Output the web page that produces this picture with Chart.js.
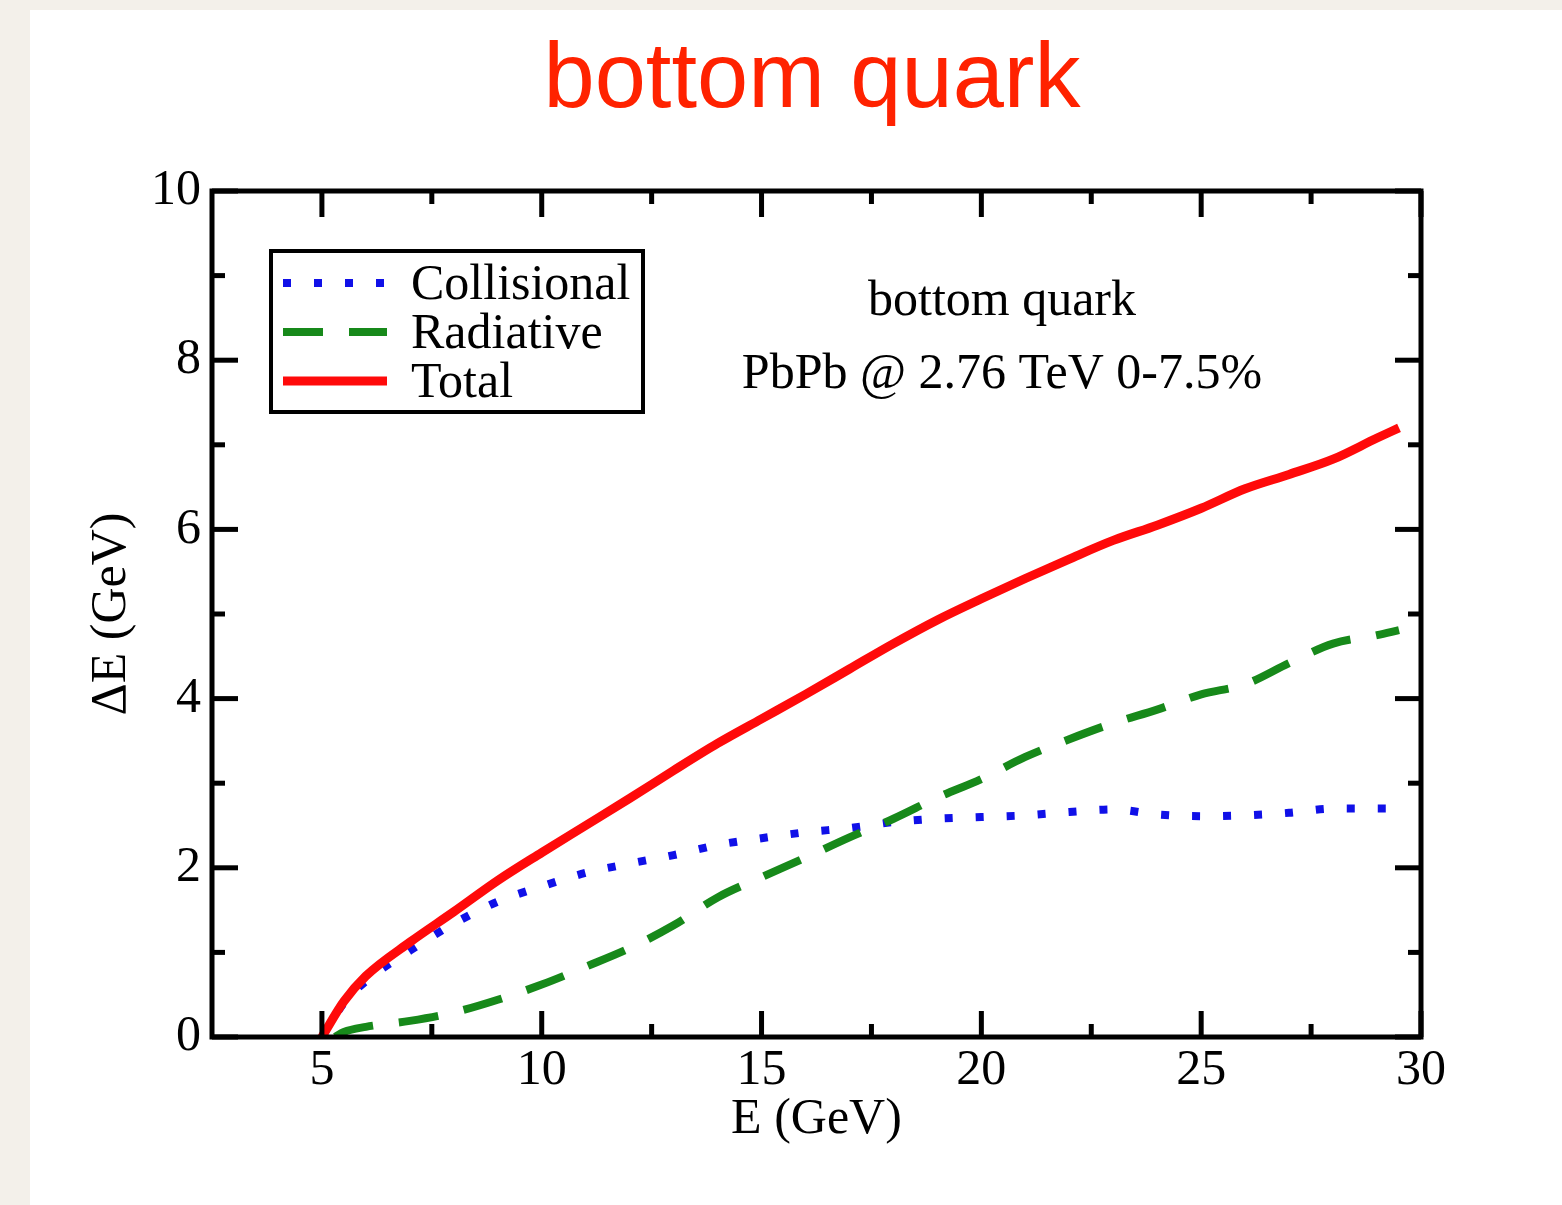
<!DOCTYPE html>
<html><head><meta charset="utf-8">
<script src="https://cdn.jsdelivr.net/npm/chart.js@4.4.1/dist/chart.umd.min.js"></script>
<style>html,body{margin:0;padding:0;background:#f3f0ea;overflow:hidden}
#wrap{position:absolute;left:0;top:0;width:1562px;height:1205px}</style></head>
<body><div id="wrap"><canvas id="c" width="1562" height="1205"></canvas></div>
<script>
// ---- data ----
const totalE = [5,5.5,6,7,8,9,10,11,12,13,14,15,16,17,18,19,20,21,22,23,24,25,26,27,28,29,29.5];
const totalDE = [0,0.42,0.72,1.12,1.48,1.85,2.18,2.5,2.82,3.15,3.47,3.76,4.05,4.35,4.65,4.93,5.18,5.42,5.65,5.87,6.05,6.25,6.48,6.65,6.83,7.08,7.2];
const collisionalE = [5,5.5,6,7,8,9,10,11,12,13,14,15,16,17,18,19,20,21,22,23,24,25,26,27,28,29,29.5];
const collisionalDE = [0,0.4,0.66,1.02,1.34,1.6,1.78,1.94,2.05,2.15,2.27,2.35,2.42,2.47,2.54,2.58,2.6,2.62,2.66,2.69,2.63,2.61,2.62,2.65,2.7,2.7,2.7];
const radiativeE = [5.3,5.5,6,7,8,9,10,11,12,13,14,15,16,17,18,19,20,21,22,23,24,25,26,27,28,29,29.5];
const radiativeDE = [0,0.06,0.12,0.19,0.29,0.44,0.62,0.83,1.05,1.32,1.65,1.89,2.12,2.36,2.58,2.83,3.05,3.31,3.52,3.71,3.87,4.05,4.17,4.42,4.65,4.75,4.81];
const xMajorTicks = [5,10,15,20,25,30];
const xMinorTicks = [7.5,12.5,17.5,22.5,27.5];
const yMajorTicks = [0,2,4,6,8,10];
const yMinorTicks = [1,3,5,7,9];
const seriesLabels = ['Collisional','Radiative','Total'];
const chartTitle = 'bottom quark';
const annotationLines = ['bottom quark','PbPb @ 2.76 TeV 0-7.5%'];

const pts = (xs, ys) => xs.map((v,i)=>({x:v,y:ys[i]}));
const SERIF = '"Liberation Serif", "DejaVu Serif", serif';

const decorPlugin = {
  id:'decor',
  beforeDraw(chart){
    const ctx = chart.ctx;
    ctx.save();
    ctx.fillStyle = '#f3f0ea'; ctx.fillRect(0,0,chart.width,chart.height);
    ctx.fillStyle = '#ffffff'; ctx.fillRect(30,10,chart.width-30,chart.height-10);
    ctx.restore();
  },
  afterDatasetsDraw(chart){
    const {ctx, chartArea:a, scales:{x,y}} = chart;
    ctx.save();
    ctx.strokeStyle = '#000'; ctx.lineCap = 'butt';
    const seg=(x1,y1,x2,y2)=>{ctx.beginPath();ctx.moveTo(x1,y1);ctx.lineTo(x2,y2);ctx.stroke();};
    ctx.lineWidth = 5;
    xMajorTicks.forEach(v=>{const p=x.getPixelForValue(v); seg(p,a.bottom,p,a.bottom-26); seg(p,a.top,p,a.top+26);});
    xMinorTicks.forEach(v=>{const p=x.getPixelForValue(v); seg(p,a.bottom,p,a.bottom-13); seg(p,a.top,p,a.top+13);});
    yMajorTicks.forEach(v=>{const p=y.getPixelForValue(v); seg(a.left,p,a.left+26,p); seg(a.right,p,a.right-26,p);});
    yMinorTicks.forEach(v=>{const p=y.getPixelForValue(v); seg(a.left,p,a.left+13,p); seg(a.right,p,a.right-13,p);});
    ctx.lineWidth = 5;
    ctx.strokeRect(a.left,a.top,a.right-a.left,a.bottom-a.top);

    // title
    ctx.fillStyle = '#ff2200';
    ctx.font = '92px "Liberation Sans", Arial, sans-serif';
    ctx.textAlign = 'center'; ctx.textBaseline = 'alphabetic';
    ctx.fillText(chartTitle, 812, 107);

    // annotation
    ctx.fillStyle = '#000';
    ctx.font = '50px ' + SERIF;
    ctx.fillText(annotationLines[0], 1002, 315);
    ctx.fillText(annotationLines[1], 1002, 388);

    // legend
    const bx=271, by=251, bw=372, bh=161;
    ctx.lineWidth = 4; ctx.strokeStyle = '#000';
    ctx.strokeRect(bx,by,bw,bh);
    const rows=[283,332,381];
    [0,1,2].forEach((di,i)=>{
      const ds = chart.data.datasets[di];
      ctx.save();
      ctx.strokeStyle = ds.borderColor; ctx.lineWidth = ds.borderWidth;
      ctx.setLineDash(ds.borderDash||[]); ctx.lineCap='butt';
      seg(283,rows[i],387,rows[i]);
      ctx.restore();
      ctx.fillStyle='#000'; ctx.textAlign='left'; ctx.textBaseline='middle';
      ctx.font = '50px ' + SERIF;
      ctx.fillText(ds.label, 411, rows[i]+3);
    });
    ctx.restore();
  }
};

new Chart(document.getElementById('c'), {
  type:'line',
  data:{datasets:[
    {label:seriesLabels[0], data:pts(collisionalE,collisionalDE), borderColor:'#1010e8', borderWidth:8, borderDash:[8,23], borderCapStyle:'butt', pointRadius:0, tension:0.3, cubicInterpolationMode:'monotone', order:3},
    {label:seriesLabels[1], data:pts(radiativeE,radiativeDE), borderColor:'#17891a', borderWidth:8, borderDash:[40,26], borderCapStyle:'butt', pointRadius:0, tension:0.3, cubicInterpolationMode:'monotone', order:2},
    {label:seriesLabels[2], data:pts(totalE,totalDE), borderColor:'#ff0a0a', borderWidth:9, pointRadius:0, tension:0.3, cubicInterpolationMode:'monotone', order:1}
  ]},
  options:{
    responsive:false, animation:false, events:[],
    layout:{padding:{left:60,right:141,top:191,bottom:0}},
    plugins:{legend:{display:false}, title:{display:false}, tooltip:{enabled:false}},
    scales:{
      x:{type:'linear', min:2.5, max:30,
        afterBuildTicks:s=>{s.ticks=xMajorTicks.map(v=>({value:v}));},
        afterFit:s=>{s.height=168;},
        grid:{display:false, drawTicks:false}, border:{display:false},
        ticks:{color:'#000', font:{family:SERIF,size:50,lineHeight:1.2}, padding:4, maxRotation:0, autoSkip:false},
        title:{display:true, text:'E (GeV)', color:'#000', font:{family:SERIF,size:50,lineHeight:1.2}, padding:{top:0,bottom:55}}
      },
      y:{type:'linear', min:0, max:10,
        afterBuildTicks:s=>{s.ticks=yMajorTicks.map(v=>({value:v}));},
        afterFit:s=>{s.width=152;},
        grid:{display:false, drawTicks:false}, border:{display:false},
        ticks:{color:'#000', font:{family:SERIF,size:50,lineHeight:1.2}, padding:11, autoSkip:false},
        title:{display:true, text:'ΔE (GeV)', color:'#000', font:{family:SERIF,size:50,lineHeight:1.2}, padding:{top:22,bottom:0}}
      }
    }
  },
  plugins:[decorPlugin]
});
</script></body></html>
